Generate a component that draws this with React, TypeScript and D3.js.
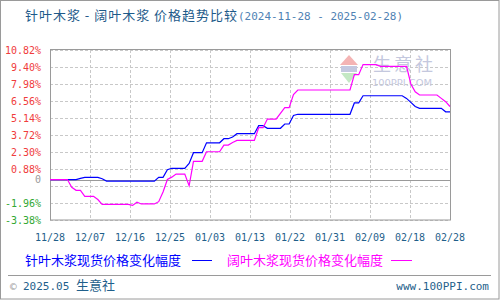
import React from "react";
import * as d3 from "d3";

const titleMain = "针叶木浆 - 阔叶木浆 价格趋势比较";
const titleDates = "(2024-11-28 - 2025-02-28)";
const xTickLabels = ["11/28", "12/07", "12/16", "12/25", "01/03", "01/13", "01/22", "01/31", "02/09", "02/18", "02/28"];
const yTickValues = [10.82, 9.4, 7.98, 6.56, 5.14, 3.72, 2.3, 0.88, -0.54, -1.96, -3.38];
const yLabelValues = [10.82, 9.4, 7.98, 6.56, 5.14, 3.72, 2.3, 0.88, 0, -1.96, -3.38];
const seriesNames = ["针叶木浆现货价格变化幅度", "阔叶木浆现货价格变化幅度"];

// daily % change, 2024-11-28 .. 2025-02-28 (93 days)
const softwood = [
  0, 0, 0, 0, 0, 0, 0, 0.1, 0.18, 0.18, 0.18, 0.18, 0.07,
  -0.13, -0.13, -0.13, -0.13, -0.13, -0.13, -0.13, -0.13, -0.13, -0.13, -0.13, -0.13,
  0.18, 0.18, 0.82, 0.94, 0.94, 0.94, 0.94, 1.35, 2.24, 2.24, 2.24,
  3.07, 3.07, 3.07, 3.07, 3.41, 3.41, 3.55, 3.83, 3.83, 3.83, 3.83, 3.83,
  4.5, 4.5, 4.28, 4.28, 4.28, 4.28, 4.64, 4.64, 5.35,
  5.45, 5.45, 5.45, 5.45, 5.45, 5.45, 5.45, 5.45, 5.45, 5.45, 5.45, 5.45, 5.45,
  6.4, 6.4, 7.0, 7.0, 7.0, 7.0, 7.0, 7.0, 7.0, 7.0, 7.0, 7.0,
  6.78, 6.45, 6.1, 5.95, 5.95, 5.95, 5.95, 5.95, 5.95, 5.66, 5.66,
];
const hardwood = [
  0, 0, 0, 0, 0, -0.65, -0.9, -0.9, -1.4, -1.4, -1.4, -1.67,
  -2.07, -2.07, -2.07, -2.07, -2.07, -2.07, -2.07, -2.16, -1.9, -2.04, -2.04, -2.04, -2.04,
  -1.85, -1.04, 0, 0.2, 0.46, 0.46, 0.46, -0.52, 1.52, 1.52, 1.52,
  2.32, 2.32, 2.32, 2.32, 2.88, 2.88, 3.1, 3.27, 3.27, 3.27, 3.27, 3.27,
  4.33, 4.33, 5.05, 5.05, 5.05, 5.53, 6.0, 6.0, 7.1,
  7.48, 7.48, 7.48, 7.48, 7.48, 7.48, 7.48, 7.48, 7.48, 7.48, 7.48, 7.48, 7.48,
  8.76, 8.76, 9.6, 9.6, 9.6, 9.6, 9.45, 9.45, 9.45, 9.45, 9.45, 9.45, 9.45,
  7.98, 7.33, 7.06, 7.06, 7.06, 7.06, 7.06, 6.78, 6.5, 6.1,
];

const seriesColors = ["#0000FF", "#FF00FF"];

export default function App() {
  const left = 50, right = 450, top = 50, bottom = 220;
  const n = softwood.length;
  const x = d3.scaleLinear().domain([0, n - 1]).range([left, right]);
  const y = d3.scaleLinear().domain([-3.38, 10.82]).range([bottom, top]);
  const tickX = d3.scalePoint<string>().domain(xTickLabels).range([left, right]);
  const line = d3
    .line<number>()
    .x((_, i) => x(i))
    .y((d) => y(d));
  const px = (v: number) => Math.round(v) + 0.5;
  const mono = "'DejaVu Sans Mono', monospace";
  const cjk = "'Noto Sans CJK SC', sans-serif";

  const yColor = (v: number) => (v > 0 ? "#F03C3C" : v < 0 ? "#33A833" : "#9A9A9A");

  return (
    <svg
      width={500}
      height={300}
      style={{ position: "absolute", left: 0, top: 0, background: "#fff" }}
      xmlns="http://www.w3.org/2000/svg"
    >
      <rect x={0} y={0} width={500} height={300} fill="#fff" />
      <rect x={0.5} y={0.5} width={498.5} height={298.5} fill="none" stroke="#9A9A9A" />

      {/* title */}
      <text x={25} y={20} fontFamily={cjk} fontSize={13} fill="#1D5A8A" textLength={212} lengthAdjust="spacing">
        {titleMain}
      </text>
      <text x={238} y={20} fontFamily={mono} fontSize={11} fill="#4F82B4" textLength={165} lengthAdjust="spacingAndGlyphs">
        {titleDates}
      </text>

      {/* grid */}
      {yTickValues.map((v, i) => (
        <line key={"gy" + i} x1={left} x2={right} y1={px(y(v))} y2={px(y(v))} stroke="#C8C8C8" strokeDasharray="3,2" />
      ))}
      {xTickLabels.map((t, i) => (
        <line key={"gx" + i} x1={px(tickX(t)!)} x2={px(tickX(t)!)} y1={top} y2={bottom} stroke="#C8C8C8" strokeDasharray="3,2" />
      ))}

      {/* watermark */}
      <g>
        <polygon points="340,65 358,65 349,55" fill="#F4B4B4" />
        <rect x={341} y={66} width={16} height={6} fill="#C4C8E0" />
        <polygon points="341,73 357,73 349,83" fill="#C4E8C4" />
        <text x={373} y={71} fontFamily={cjk} fontSize={18} fill="#C4C8DE" letterSpacing={3}>
          生意社
        </text>
        <text x={372} y={86} fontFamily="'DejaVu Sans', sans-serif" fontSize={9} fill="#C4C8DE" textLength={60} lengthAdjust="spacingAndGlyphs">
          100PPI.COM
        </text>
      </g>

      {/* zero line */}
      <line x1={left} x2={right} y1={px(y(0))} y2={px(y(0))} stroke="#9A9A9A" />

      {/* plot border */}
      <rect x={left + 0.5} y={top - 0.5} width={right - left} height={bottom - top + 0.5} fill="none" stroke="#9A9A9A" />

      {/* series */}
      <path d={line(softwood) || ""} fill="none" stroke={seriesColors[0]} strokeWidth={1.2} />
      <path d={line(hardwood) || ""} fill="none" stroke={seriesColors[1]} strokeWidth={1.2} />

      {/* y labels */}
      {yLabelValues.map((v, i) => (
        <text
          key={"yl" + i}
          x={41}
          y={y(v)}
          dy="0.35em"
          textAnchor="end"
          fontFamily={mono}
          fontSize={10}
          fill={yColor(v)}
        >
          {v === 0 ? "0" : v.toFixed(2) + "%"}
        </text>
      ))}

      {/* x labels */}
      {xTickLabels.map((t, i) => (
        <text key={"xl" + i} x={tickX(t)!} y={241} textAnchor="middle" fontFamily={mono} fontSize={10} fill="#1F5F8B">
          {t}
        </text>
      ))}

      {/* legend */}
      <text x={25} y={264.5} fontFamily={cjk} fontSize={13} fill={seriesColors[0]}>
        {seriesNames[0]}
      </text>
      <line x1={192} x2={212} y1={260.5} y2={260.5} stroke={seriesColors[0]} />
      <text x={227} y={264.5} fontFamily={cjk} fontSize={13} fill={seriesColors[1]}>
        {seriesNames[1]}
      </text>
      <line x1={391} x2={412} y1={260.5} y2={260.5} stroke={seriesColors[1]} />

      {/* footer */}
      <line x1={8} x2={491} y1={275.5} y2={275.5} stroke="#9A9A9A" />
      <text x={10} y={290} fontFamily={mono} fontSize={11} fill="#A0A0A0">
        ©
      </text>
      <text x={23} y={290} fontFamily={mono} fontSize={11} fill="#1F5F8B">
        2025.05
      </text>
      <text x={76} y={290} fontFamily={cjk} fontSize={13} fill="#1F5F8B">
        生意社
      </text>
      <text x={489} y={290} textAnchor="end" fontFamily={mono} fontSize={11} fill="#1F5F8B">
        www.100PPI.com
      </text>
    </svg>
  );
}
